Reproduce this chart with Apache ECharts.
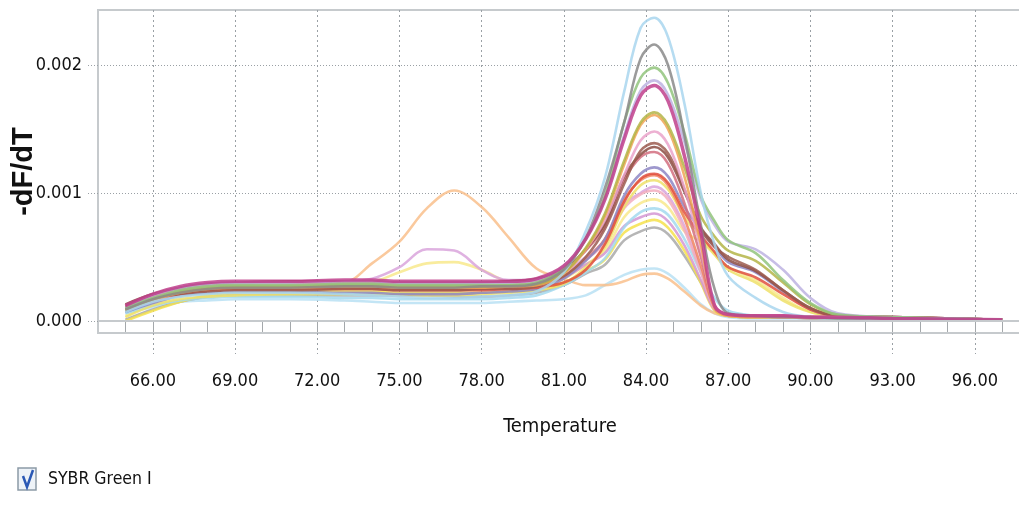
<!DOCTYPE html>
<html>
<head>
<meta charset="utf-8">
<script src="https://cdn.jsdelivr.net/npm/echarts@6/dist/echarts.min.js"></script>
<style>
	html, body { margin: 0; padding: 0; background: #fff; }
	#melt { width: 1019px; height: 508px; }
</style>
</head>
<body>
<div id="melt"></div>
<script>
//温度采样点 (°C)
var temps = [65, 66, 67, 68, 69, 71, 73, 74, 75, 76, 77, 78, 79, 80, 81, 81.8, 82.5, 83.2, 83.8, 84.3, 84.8, 85.4, 86, 86.5, 87, 88, 89, 90, 91, 93, 97];

//刻度
var xLabelTicks = [66, 69, 72, 75, 78, 81, 84, 87, 90, 93, 96];
var xMinorTicks = [65, 66, 67, 68, 69, 70, 71, 72, 73, 74, 75, 76, 77, 78, 79, 80, 81, 82, 83, 84, 85, 86, 87, 88, 89, 90, 91, 92, 93, 94, 95, 96, 97];
var yLabelTicks = [0, 0.001, 0.002];

//各孔的 -dF/dT 曲线, 单位 0.001
var skyLow = [0.06, 0.11, 0.15, 0.16, 0.17, 0.17, 0.16, 0.15, 0.14, 0.14, 0.14, 0.14, 0.15, 0.16, 0.17, 0.20, 0.28, 0.36, 0.40, 0.41, 0.37, 0.26, 0.13, 0.06, 0.03, 0.02, 0.02, 0.02, 0.02, 0.01, 0.01];
var peachBump = [0.10, 0.17, 0.23, 0.26, 0.27, 0.28, 0.30, 0.45, 0.62, 0.88, 1.02, 0.89, 0.65, 0.41, 0.33, 0.28, 0.28, 0.31, 0.36, 0.37, 0.33, 0.23, 0.12, 0.06, 0.04, 0.03, 0.03, 0.02, 0.02, 0.02, 0.01];
var strawBump = [0.04, 0.13, 0.19, 0.22, 0.24, 0.25, 0.26, 0.30, 0.38, 0.45, 0.46, 0.40, 0.30, 0.27, 0.33, 0.44, 0.55, 0.81, 0.92, 0.95, 0.89, 0.70, 0.62, 0.52, 0.42, 0.32, 0.18, 0.07, 0.04, 0.02, 0.01];
var orchidBump = [0.11, 0.19, 0.25, 0.28, 0.29, 0.30, 0.31, 0.33, 0.42, 0.56, 0.55, 0.40, 0.32, 0.32, 0.38, 0.50, 0.63, 0.91, 1.00, 1.05, 0.98, 0.74, 0.39, 0.10, 0.05, 0.04, 0.04, 0.03, 0.03, 0.02, 0.01];
var silver = [0.01, 0.09, 0.15, 0.19, 0.20, 0.20, 0.20, 0.20, 0.20, 0.20, 0.19, 0.19, 0.20, 0.22, 0.28, 0.37, 0.44, 0.63, 0.70, 0.73, 0.68, 0.51, 0.30, 0.10, 0.04, 0.03, 0.03, 0.02, 0.02, 0.02, 0.01];
var lemon = [0.00, 0.08, 0.15, 0.20, 0.22, 0.23, 0.23, 0.23, 0.22, 0.22, 0.22, 0.22, 0.23, 0.24, 0.30, 0.39, 0.48, 0.69, 0.76, 0.79, 0.73, 0.55, 0.30, 0.08, 0.04, 0.03, 0.03, 0.03, 0.02, 0.02, 0.01];
var violet = [0.09, 0.17, 0.22, 0.25, 0.26, 0.27, 0.27, 0.27, 0.26, 0.26, 0.26, 0.26, 0.27, 0.28, 0.34, 0.44, 0.53, 0.74, 0.81, 0.84, 0.78, 0.59, 0.32, 0.09, 0.05, 0.04, 0.03, 0.03, 0.03, 0.02, 0.01];
var cyan = [0.06, 0.12, 0.16, 0.18, 0.19, 0.19, 0.18, 0.18, 0.17, 0.17, 0.17, 0.17, 0.18, 0.20, 0.28, 0.38, 0.49, 0.73, 0.85, 0.88, 0.83, 0.64, 0.38, 0.18, 0.08, 0.04, 0.03, 0.03, 0.02, 0.02, 0.01];
var blush = [0.10, 0.17, 0.23, 0.26, 0.27, 0.27, 0.28, 0.28, 0.27, 0.27, 0.27, 0.27, 0.28, 0.29, 0.36, 0.48, 0.61, 0.88, 0.99, 1.02, 0.95, 0.71, 0.38, 0.10, 0.05, 0.04, 0.03, 0.03, 0.03, 0.02, 0.01];
var yellow = [0.03, 0.12, 0.17, 0.19, 0.20, 0.21, 0.21, 0.21, 0.20, 0.20, 0.20, 0.21, 0.22, 0.24, 0.29, 0.42, 0.58, 0.89, 1.06, 1.10, 1.03, 0.81, 0.65, 0.52, 0.40, 0.30, 0.16, 0.07, 0.04, 0.02, 0.01];
var salmon = [0.08, 0.16, 0.21, 0.24, 0.25, 0.25, 0.26, 0.26, 0.25, 0.25, 0.25, 0.25, 0.26, 0.28, 0.35, 0.48, 0.64, 0.95, 1.10, 1.14, 1.06, 0.80, 0.43, 0.11, 0.05, 0.04, 0.03, 0.03, 0.03, 0.02, 0.01];
var slate = [0.07, 0.14, 0.20, 0.22, 0.23, 0.23, 0.22, 0.22, 0.21, 0.21, 0.21, 0.22, 0.23, 0.25, 0.33, 0.47, 0.64, 0.98, 1.15, 1.20, 1.13, 0.89, 0.71, 0.58, 0.46, 0.38, 0.23, 0.09, 0.04, 0.03, 0.01];
var red = [0.09, 0.16, 0.21, 0.24, 0.25, 0.25, 0.25, 0.25, 0.24, 0.24, 0.24, 0.24, 0.25, 0.26, 0.30, 0.40, 0.60, 0.93, 1.11, 1.15, 1.08, 0.85, 0.67, 0.54, 0.42, 0.34, 0.21, 0.09, 0.04, 0.03, 0.01];
var rose = [0.11, 0.19, 0.25, 0.28, 0.29, 0.30, 0.30, 0.30, 0.29, 0.29, 0.29, 0.29, 0.30, 0.31, 0.39, 0.55, 0.74, 1.10, 1.28, 1.32, 1.23, 0.92, 0.50, 0.12, 0.05, 0.04, 0.04, 0.03, 0.03, 0.02, 0.01];
var maroon = [0.13, 0.21, 0.26, 0.29, 0.30, 0.31, 0.31, 0.31, 0.30, 0.30, 0.30, 0.30, 0.31, 0.33, 0.40, 0.56, 0.76, 1.13, 1.30, 1.36, 1.28, 1.01, 0.73, 0.60, 0.48, 0.39, 0.24, 0.10, 0.04, 0.03, 0.01];
var brown = [0.11, 0.18, 0.21, 0.23, 0.24, 0.24, 0.25, 0.25, 0.24, 0.24, 0.24, 0.25, 0.25, 0.27, 0.35, 0.50, 0.72, 1.07, 1.33, 1.39, 1.31, 1.03, 0.72, 0.58, 0.50, 0.40, 0.24, 0.10, 0.04, 0.03, 0.01];
var pink = [0.10, 0.18, 0.24, 0.27, 0.28, 0.28, 0.29, 0.29, 0.28, 0.28, 0.28, 0.28, 0.29, 0.30, 0.38, 0.56, 0.79, 1.14, 1.41, 1.48, 1.38, 1.04, 0.56, 0.12, 0.05, 0.04, 0.03, 0.03, 0.03, 0.02, 0.01];
var orange = [0.09, 0.16, 0.22, 0.25, 0.26, 0.26, 0.27, 0.27, 0.26, 0.26, 0.26, 0.26, 0.27, 0.28, 0.37, 0.56, 0.82, 1.22, 1.53, 1.61, 1.50, 1.13, 0.60, 0.10, 0.04, 0.03, 0.03, 0.03, 0.02, 0.02, 0.01];
var olive = [0.08, 0.17, 0.23, 0.26, 0.27, 0.27, 0.28, 0.28, 0.27, 0.27, 0.27, 0.27, 0.28, 0.29, 0.38, 0.57, 0.84, 1.25, 1.55, 1.63, 1.53, 1.20, 0.82, 0.66, 0.55, 0.47, 0.30, 0.13, 0.05, 0.03, 0.01];
var lavender = [0.10, 0.20, 0.26, 0.29, 0.30, 0.30, 0.31, 0.31, 0.30, 0.30, 0.30, 0.30, 0.30, 0.32, 0.43, 0.64, 0.96, 1.45, 1.80, 1.88, 1.77, 1.40, 0.95, 0.75, 0.62, 0.56, 0.40, 0.18, 0.06, 0.03, 0.01];
var green = [0.10, 0.18, 0.24, 0.27, 0.28, 0.28, 0.29, 0.29, 0.28, 0.28, 0.28, 0.28, 0.28, 0.30, 0.41, 0.64, 0.98, 1.55, 1.90, 1.98, 1.86, 1.47, 0.98, 0.78, 0.63, 0.53, 0.32, 0.14, 0.05, 0.03, 0.01];
var skyTall = [0.07, 0.15, 0.19, 0.21, 0.22, 0.22, 0.21, 0.20, 0.19, 0.18, 0.18, 0.19, 0.20, 0.23, 0.38, 0.70, 1.12, 1.79, 2.29, 2.37, 2.22, 1.70, 1.00, 0.60, 0.35, 0.18, 0.07, 0.03, 0.02, 0.02, 0.01];
var grayTall = [0.09, 0.17, 0.22, 0.25, 0.26, 0.26, 0.27, 0.27, 0.26, 0.26, 0.26, 0.27, 0.27, 0.29, 0.40, 0.65, 1.04, 1.55, 2.05, 2.16, 2.00, 1.45, 0.75, 0.25, 0.06, 0.04, 0.03, 0.03, 0.02, 0.02, 0.01];
var magenta = [0.12, 0.21, 0.27, 0.30, 0.31, 0.31, 0.32, 0.32, 0.31, 0.31, 0.31, 0.31, 0.31, 0.33, 0.43, 0.64, 0.95, 1.42, 1.76, 1.84, 1.72, 1.29, 0.69, 0.12, 0.05, 0.04, 0.04, 0.03, 0.03, 0.02, 0.01];

//绘制顺序 (后画的在上层)
var curves = [
	['skyLow', skyLow], ['peachBump', peachBump], ['strawBump', strawBump], ['orchidBump', orchidBump],
	['silver', silver], ['lemon', lemon], ['violet', violet], ['cyan', cyan], ['blush', blush],
	['yellow', yellow], ['salmon', salmon], ['slate', slate], ['red', red], ['rose', rose],
	['maroon', maroon], ['brown', brown], ['pink', pink], ['orange', orange], ['olive', olive],
	['lavender', lavender], ['green', green], ['skyTall', skyTall], ['grayTall', grayTall], ['magenta', magenta]
];

//曲线颜色
var curveColors = {
	skyLow: '#b9e0f3', peachBump: '#f9bf8c', strawBump: '#f8e98c', orchidBump: '#d9a4dc',
	silver: '#a9a9a9', lemon: '#f6e24c', violet: '#d397d3', cyan: '#a3d9ef', blush: '#f3adbd',
	yellow: '#eee06a', salmon: '#f0835f', slate: '#8d86c4', red: '#e0503e', rose: '#d26f7f',
	maroon: '#8c4c43', brown: '#9c5c50', pink: '#eaa3ca', orange: '#f0a556', olive: '#b4b548',
	lavender: '#bdb3e2', green: '#92c47c', skyTall: '#a9d6ee', grayTall: '#8a8a8a', magenta: '#c0408c'
};

var narrowFont = "'DejaVu Sans Condensed', sans-serif";
var frameColor = '#c6cacd';
var dotColor = '#9aa0a5';

var buildSeries = function() {
	var list = [];
	for(var i = 0; i < curves.length; i++) {
		var name = curves[i][0];
		var vals = curves[i][1];
		var pts = [];
		for(var j = 0; j < temps.length; j++) {
			pts.push([temps[j], vals[j] / 1000]);
		}
		list.push({
			name: name,
			type: 'line',
			smooth: 0.35,
			showSymbol: false,
			silent: true,
			data: pts,
			lineStyle: {
				width: name == 'magenta' ? 3.5 : 2.6,
				color: curveColors[name],
				opacity: 0.85
			}
		});
	}
	//零线
	list[0].markLine = {
		silent: true,
		symbol: 'none',
		label: { show: false },
		lineStyle: { type: 'solid', color: frameColor, width: 2 },
		data: [{ yAxis: 0 }]
	};
	return list;
};

var chart = echarts.init(document.getElementById('melt'));
chart.setOption({
	animation: false,
	grid: {
		left: 98,
		top: 10,
		right: -3,
		bottom: 175,
		outerBoundsMode: 'none',
		show: true,
		borderColor: frameColor,
		borderWidth: 2
	},
	xAxis: [{
		type: 'value',
		min: 64,
		max: 97.72,
		position: 'bottom',
		name: 'Temperature',
		nameLocation: 'middle',
		nameGap: 84,
		nameMoveOverlap: false,
		nameTextStyle: { fontFamily: narrowFont, fontSize: 20, color: '#111' },
		axisLine: { show: true, lineStyle: { color: frameColor, width: 2 } },
		axisTick: { show: true, customValues: xMinorTicks, length: 11, lineStyle: { color: '#a4a8ab', width: 1 } },
		axisLabel: {
			customValues: xLabelTicks,
			margin: 39,
			fontFamily: narrowFont,
			fontSize: 18,
			color: '#111',
			formatter: function(v) { return v.toFixed(2); }
		},
		splitLine: { show: false }
	}, {
		type: 'value',
		min: 64,
		max: 97.72,
		position: 'bottom',
		axisLine: { show: false },
		axisTick: { show: true, customValues: xLabelTicks, length: 21, lineStyle: { color: dotColor, type: [2, 3] } },
		axisLabel: { show: false, customValues: xLabelTicks },
		splitLine: { show: true, lineStyle: { color: dotColor, type: [2, 3] } }
	}],
	yAxis: {
		type: 'value',
		min: -0.000094,
		max: 0.00243,
		name: '-dF/dT',
		nameLocation: 'middle',
		nameRotate: 90,
		nameGap: 60,
		nameMoveOverlap: false,
		nameTextStyle: { fontFamily: 'Liberation Sans, Arial, sans-serif', fontWeight: 'bold', fontSize: 29, color: '#111' },
		axisLine: { show: true, lineStyle: { color: frameColor, width: 2 } },
		axisTick: { show: true, customValues: yLabelTicks, length: 10, lineStyle: { color: dotColor, type: [1, 2] } },
		axisLabel: {
			customValues: yLabelTicks,
			margin: 16,
			fontFamily: narrowFont,
			fontSize: 18,
			color: '#111',
			formatter: function(v) { return v.toFixed(3); }
		},
		splitLine: { show: true, lineStyle: { color: dotColor, type: [1, 2] } }
	},
	graphic: [{
		type: 'rect',
		shape: { x: 18, y: 468, width: 18, height: 22 },
		style: { fill: '#eef3f8', stroke: '#8c9aa6', lineWidth: 1.5 }
	}, {
		type: 'polyline',
		shape: { points: [[23, 476], [27, 487], [33, 470]] },
		style: { stroke: '#2b59b5', lineWidth: 2.5, fill: null }
	}, {
		type: 'text',
		left: 48,
		top: 470,
		style: { text: 'SYBR Green I', fontFamily: narrowFont, fontSize: 17.5, fill: '#111' }
	}],
	series: buildSeries()
});
</script>
</body>
</html>
